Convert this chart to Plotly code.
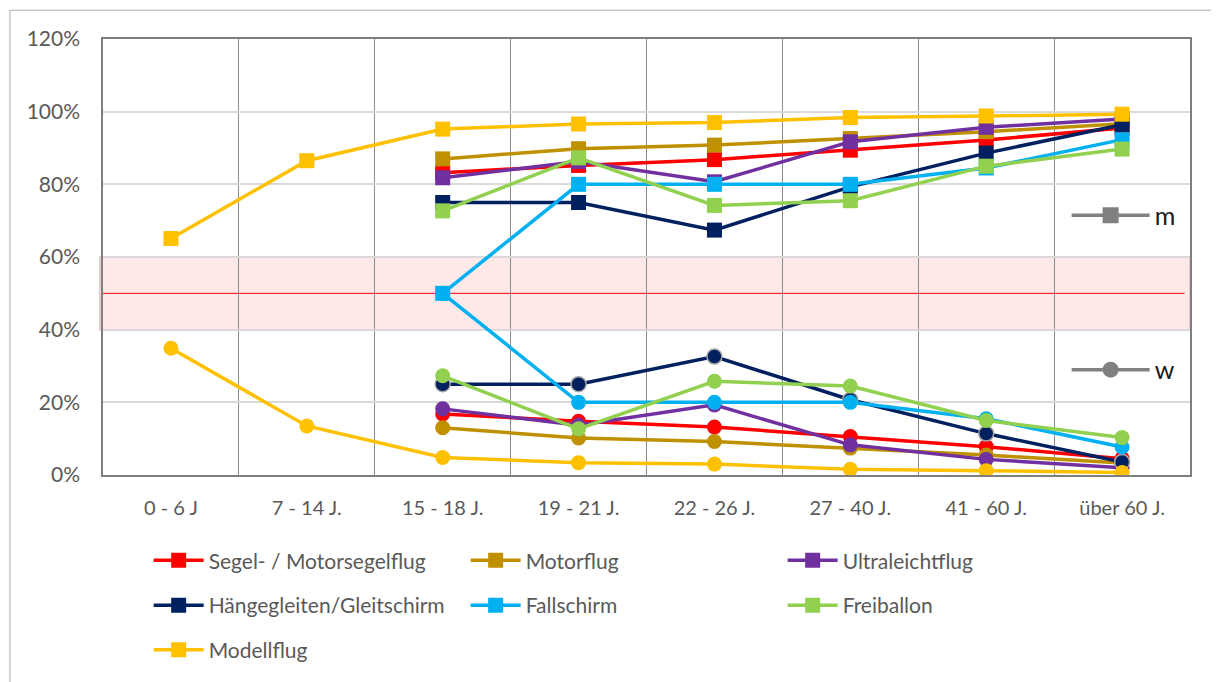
import plotly.graph_objects as go

categories = ["0 - 6 J", "7 - 14 J.", "15 - 18 J.", "19 - 21 J.", "22 - 26 J.",
              "27 - 40 J.", "41 - 60 J.", "über 60 J."]

series_names = ["Segel- / Motorsegelflug", "Motorflug", "Ultraleichtflug",
                "Hängegleiten/Gleitschirm", "Fallschirm", "Freiballon", "Modellflug"]
series_colors = ["#FF0000", "#BF9000", "#7030A0", "#002060", "#00B0F0", "#92D050", "#FFC000"]

# share of men (m), in %
m_segel = [None, None, 83.2, 85.2, 86.8, 89.4, 92.2, 95.5]
m_motor = [None, None, 87.0, 89.8, 90.8, 92.6, 94.5, 96.7]
m_ultra = [None, None, 81.8, 86.3, 80.7, 91.7, 95.7, 98.0]
m_haenge = [None, None, 75.0, 75.0, 67.4, 79.3, 88.6, 96.4]
m_fall = [None, None, 50.0, 80.0, 80.0, 80.0, 84.5, 92.3]
m_frei = [None, None, 72.7, 87.3, 74.2, 75.5, 85.0, 89.7]
m_modell = [65.1, 86.5, 95.2, 96.6, 97.0, 98.4, 98.8, 99.3]

# share of women (w), in %
w_segel = [None, None, 16.8, 14.8, 13.2, 10.6, 7.8, 4.5]
w_motor = [None, None, 13.0, 10.2, 9.2, 7.4, 5.5, 3.3]
w_ultra = [None, None, 18.2, 13.7, 19.3, 8.3, 4.3, 2.0]
w_haenge = [None, None, 25.0, 25.0, 32.6, 20.7, 11.4, 3.6]
w_fall = [None, None, 50.0, 20.0, 20.0, 20.0, 15.5, 7.7]
w_frei = [None, None, 27.3, 12.7, 25.8, 24.5, 15.0, 10.3]
w_modell = [34.9, 13.5, 4.8, 3.4, 3.0, 1.6, 1.2, 0.7]

m_values = [m_segel, m_motor, m_ultra, m_haenge, m_fall, m_frei, m_modell]
w_values = [w_segel, w_motor, w_ultra, w_haenge, w_fall, w_frei, w_modell]
legend_rows = ["legend", "legend", "legend", "legend2", "legend2", "legend2", "legend3"]

y_ticks = [0, 0.2, 0.4, 0.6, 0.8, 1.0, 1.2]
band_low, band_high, parity = 0.4, 0.6, 0.5

FONT = "Liberation Sans Narrow, Lato, Roboto, sans-serif"
TXT = "#595959"

def pct(vals):
    return [None if v is None else v / 100 for v in vals]

fig = go.Figure()

for name, color, mv, row in zip(series_names, series_colors, m_values, legend_rows):
    fig.add_trace(go.Scatter(
        x=categories, y=pct(mv), name=name, mode="lines+markers",
        line=dict(color=color, width=3.5),
        marker=dict(symbol="square", size=15, color=color),
        legend=row, connectgaps=False, hoverinfo="skip"))

for name, color, wv in zip(series_names, series_colors, w_values):
    outline = dict(color="#A6A6A6", width=1.5) if name.startswith("Hänge") else dict(width=0)
    fig.add_trace(go.Scatter(
        x=categories, y=pct(wv), name=name, mode="lines+markers",
        line=dict(color=color, width=3.5),
        marker=dict(symbol="circle", size=15, color=color, line=outline),
        showlegend=False, connectgaps=False, hoverinfo="skip"))

# keys for m / w
fig.add_trace(go.Scatter(x=[None], y=[None], name="m", mode="lines+markers",
                         line=dict(color="#808080", width=3.5),
                         marker=dict(symbol="square", size=16, color="#808080"),
                         legend="legend4"))
fig.add_trace(go.Scatter(x=[None], y=[None], name="w", mode="lines+markers",
                         line=dict(color="#808080", width=3.5),
                         marker=dict(symbol="circle", size=16, color="#808080"),
                         legend="legend5"))

# 40-60 % band and parity line
fig.add_shape(type="rect", xref="paper", yref="y", x0=-0.003, x1=1, y0=band_low, y1=band_high,
              fillcolor="rgba(255,0,0,0.09)", line=dict(color="rgba(190,140,140,0.45)", width=1.5),
              layer="between")
fig.add_shape(type="line", xref="paper", yref="y", x0=0, x1=0.995, y0=parity, y1=parity,
              line=dict(color="#FF0000", width=1), layer="between")
# outer chart frame
fig.add_shape(type="rect", xref="paper", yref="paper", x0=-0.0856, x1=1.0248, y0=-0.49, y1=1.066,
              line=dict(color="#ABABAB", width=1), fillcolor="rgba(0,0,0,0)", layer="below")

legend_common = dict(orientation="h", font=dict(family=FONT, size=21, color=TXT),
                     bgcolor="rgba(0,0,0,0)", xanchor="left", yanchor="middle",
                     itemwidth=50, entrywidth=252, entrywidthmode="pixels",
                     itemclick=False, itemdoubleclick=False)
key_common = dict(orientation="h", xanchor="left", yanchor="middle",
                  font=dict(family=FONT, size=25, color="#1A1A1A"), bgcolor="rgba(0,0,0,0)",
                  itemwidth=78, itemclick=False, itemdoubleclick=False)

fig.update_layout(
    width=1211, height=674,
    margin=dict(l=95, r=29, t=31, b=203),
    paper_bgcolor="white", plot_bgcolor="white",
    font=dict(family=FONT, color=TXT),
    legend=dict(x=0.042, y=-0.1965, **legend_common),
    legend2=dict(x=0.042, y=-0.2995, **legend_common),
    legend3=dict(x=0.042, y=-0.4015, **legend_common),
    legend4=dict(x=0.8865, y=0.595, **key_common),
    legend5=dict(x=0.8865, y=0.241, **key_common),
    xaxis=dict(type="category", categoryorder="array", categoryarray=categories,
               range=[-0.5, len(categories) - 0.5], tickson="boundaries",
               showgrid=True, gridcolor="#8C8C8C", gridwidth=1,
               showline=True, mirror=True, linecolor="#7F7F7F", linewidth=1.5,
               ticks="", tickfont=dict(family=FONT, size=20, color=TXT),
               ticklabelstandoff=14, fixedrange=True),
    yaxis=dict(range=[0, 1.2], tickvals=y_ticks, tickformat=".0%",
               showgrid=True, gridcolor="#D9D9D9", gridwidth=1.5, zeroline=False,
               showline=True, mirror=True, linecolor="#7F7F7F", linewidth=1.5,
               ticks="", tickfont=dict(family=FONT, size=21, color=TXT),
               ticklabelstandoff=17, fixedrange=True),
    showlegend=True,
)

fig.write_html("out.html")
